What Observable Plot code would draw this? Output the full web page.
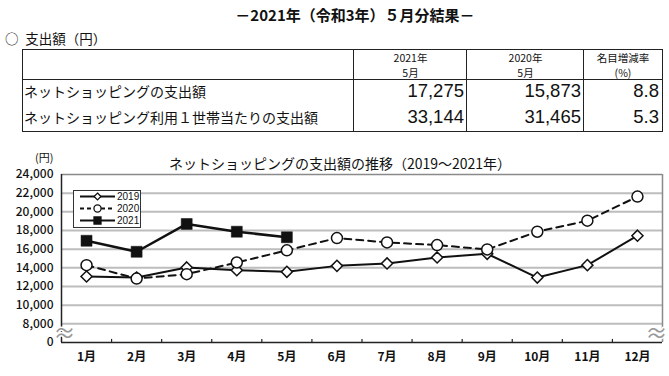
<!DOCTYPE html>
<html><head><meta charset="utf-8">
<script src="https://cdn.jsdelivr.net/npm/d3@7"></script>
<script src="https://cdn.jsdelivr.net/npm/@observablehq/plot@0.6"></script>
<style>
body{margin:0;width:669px;height:376px;position:relative;background:#fff;font-family:"Noto Sans CJK JP","Noto Sans",sans-serif;color:#111;overflow:hidden}
.abs{position:absolute;white-space:nowrap}
#title{left:0;width:710px;top:5px;text-align:center;font-weight:bold;font-size:15px;line-height:20px}
#sub{left:5px;top:29px;font-size:13.5px;line-height:18px}
#table{left:22px;top:49px;width:639px;height:81px;border:1.5px solid #222}
.vd{position:absolute;top:0;bottom:0;border-left:1.5px solid #222}
.hd{position:absolute;left:0;right:0;top:29px;border-top:1.5px solid #222}
.hc{position:absolute;text-align:center;font-size:10.5px;line-height:13px;height:13px}
.lab{position:absolute;left:1px;font-size:14px;line-height:18px}
.val{position:absolute;text-align:right;font-family:"Liberation Sans",Arial,sans-serif;font-size:18.5px;line-height:22px}
#chart{left:0;top:140px}
#ctitle{left:0;width:680px;top:154px;text-align:center;font-size:14px;line-height:18px}
#yen{left:35px;top:150px;font-size:11px;line-height:14px}
#legend{left:73px;top:190px;width:66px;height:36px;border:1px solid #333;background:#fff}
</style></head>
<body>
<div id="title" class="abs"></div>
<div id="sub" class="abs"></div>
<div id="table" class="abs"></div>
<div id="chart" class="abs"></div>
<div id="ctitle" class="abs"></div>
<div id="yen" class="abs"></div>
<div id="legend" class="abs"></div>
<script>
// ---- text ----
const pageTitle = "－2021年（令和3年）５月分結果－";
const sectionTitle = "○\u2002支出額（円）";
const chartTitle = "ネットショッピングの支出額の推移（2019～2021年）";
const yUnit = "(円)";
// ---- table data ----
const tableHeaders = [["2021年","5月"],["2020年","5月"],["名目増減率","(%)"]];
const tableRowLabels = ["ネットショッピングの支出額","ネットショッピング利用１世帯当たりの支出額"];
const tableCol2021 = ["17,275","33,144"];
const tableCol2020 = ["15,873","31,465"];
const tableColRate = ["8.8","5.3"];
// ---- chart data ----
const months = [1,2,3,4,5,6,7,8,9,10,11,12];
const monthLabels = ["1月","2月","3月","4月","5月","6月","7月","8月","9月","10月","11月","12月"];
const seriesNames = ["2019","2020","2021"];
const values2019 = [13070,12960,14040,13750,13570,14210,14470,15110,15500,12960,14290,17440];
const values2020 = [14290,12850,13320,14570,15873,17190,16720,16440,15970,17870,19050,21630];
const values2021 = [16900,15720,18700,17870,17275];
const yTicks = [0,8000,10000,12000,14000,16000,18000,20000,22000,24000];

document.getElementById("title").textContent = pageTitle;
document.getElementById("sub").textContent = sectionTitle;
document.getElementById("ctitle").textContent = chartTitle;
document.getElementById("yen").textContent = yUnit;

// ---- table ----
const tbl = document.getElementById("table");
const colX = [0, 331, 444, 561, 639]; // column edges (layout)
let html = "";
for (let i = 1; i < 4; i++) html += `<div class="vd" style="left:${colX[i]-1}px"></div>`;
html += `<div class="hd"></div>`;
tableHeaders.forEach((h, i) => {
  const st = `left:${colX[i+1]}px;width:${colX[i+2]-colX[i+1]}px`;
  html += `<div class="hc" style="${st};top:0.5px">${h[0]}</div>`;
  html += `<div class="hc" style="${st};top:16px">${h[1]}</div>`;
});
const rowTops = [31, 57];
tableRowLabels.forEach((l, r) => {
  html += `<div class="lab" style="top:${rowTops[r]+1}px">${l}</div>`;
  [tableCol2021, tableCol2020, tableColRate].forEach((col, c) => {
    html += `<div class="val" style="top:${rowTops[r]-1}px;left:${colX[c+1]}px;width:${colX[c+2]-colX[c+1]-3}px">${col[r]}</div>`;
  });
});
tbl.innerHTML = html;

// ---- chart ----
const allSeries = [values2019, values2020, values2021];
const rows = [];
allSeries.forEach((vals, s) => vals.forEach((v, i) => rows.push({series: seriesNames[s], month: months[i], value: v})));
const bySeries = name => rows.filter(d => d.series === name);

const BREAK_BASE = 6000; // position where the "0" tick is drawn (broken axis)
const yPos = v => v === 0 ? BREAK_BASE : v;
const xDomain = [months[0] - 0.5, months[months.length - 1] + 0.5];
const boundaries = months.slice(1).map(m => m - 0.5);
const gridTicks = yTicks.filter(v => v > 0 && v < yTicks[yTicks.length - 1]);
const yTop = yTicks[yTicks.length - 1];

const fmt = d3.format(",");
const chart = Plot.plot({
  width: 669, height: 236,
  marginLeft: 61, marginRight: 7, marginTop: 34, marginBottom: 34,
  x: {domain: xDomain, axis: null},
  y: {domain: [BREAK_BASE, yTop], axis: null},
  style: {fontFamily: "'Noto Sans CJK JP', sans-serif", fontSize: "12px", color: "#111", background: "transparent"},
  marks: [
    Plot.ruleY(gridTicks, {stroke: "#bdbdbd", strokeWidth: 2}),
    Plot.ruleY([yTop], {stroke: "#8a8a8a", strokeWidth: 1.5}),
    Plot.ruleX([xDomain[1]], {stroke: "#8a8a8a", strokeWidth: 1.5}),
    Plot.axisY(yTicks.map(yPos), {label: null, tickSize: 0, tickPadding: 8, tickFormat: d => d === BREAK_BASE ? "0" : fmt(d), fontSize: 12, fontWeight: 500}),
    Plot.axisX(months, {label: null, tickSize: 0, tickPadding: 10, tickFormat: (d, i) => monthLabels[i], fontSize: 12, fontWeight: 600}),
    Plot.line(bySeries("2019"), {x: "month", y: "value", stroke: "#111", strokeWidth: 2}),
    Plot.line(bySeries("2020"), {x: "month", y: "value", stroke: "#111", strokeWidth: 2, strokeDasharray: "7,5"}),
    Plot.line(bySeries("2021"), {x: "month", y: "value", stroke: "#111", strokeWidth: 2.5}),
    Plot.dot(bySeries("2019"), {x: "month", y: "value", symbol: "diamond2", r: 5, fill: "white", stroke: "#111", strokeWidth: 1.5}),
    Plot.dot(bySeries("2020"), {x: "month", y: "value", symbol: "circle", r: 5.5, fill: "white", stroke: "#111", strokeWidth: 1.5}),
    Plot.dot(bySeries("2021"), {x: "month", y: "value", symbol: "square", r: 6.2, fill: "#111", stroke: "#111", strokeWidth: 0.5}),
    Plot.ruleX([xDomain[0]], {stroke: "#222", strokeWidth: 1.5}),
    Plot.ruleY([BREAK_BASE], {stroke: "#222", strokeWidth: 1.5}),
    Plot.ruleX(boundaries, {y1: BREAK_BASE, y2: BREAK_BASE + 330, stroke: "#222", strokeWidth: 1.2}),
    Plot.text(["≈"], {x: xDomain[0], y: (BREAK_BASE + gridTicks[0]) / 2, dx: 3, dy: 1, text: d => d, fontSize: 22, fill: "#999", stroke: "white", strokeWidth: 3}),
    Plot.text(["≈"], {x: xDomain[1], y: (BREAK_BASE + gridTicks[0]) / 2, dx: -6, dy: 1, text: d => d, fontSize: 22, fill: "#999", stroke: "white", strokeWidth: 3})
  ]
});
document.getElementById("chart").appendChild(chart);

// ---- legend ----
const legendStyles = [
  {dash: null, sym: d3.symbolDiamond2, size: 30, fill: "white"},
  {dash: "4,3", sym: d3.symbolCircle, size: 40, fill: "white"},
  {dash: null, sym: d3.symbolSquare, size: 49, fill: "#111"}
];
const lg = d3.select("#legend").append("svg").attr("width", 66).attr("height", 36).style("display", "block");
seriesNames.forEach((name, i) => {
  const st = legendStyles[i];
  const y = 5.5 + i * 12;
  lg.append("line").attr("x1", 6).attr("x2", 41).attr("y1", y).attr("y2", y)
    .attr("stroke", "#111").attr("stroke-width", 2).attr("stroke-dasharray", st.dash);
  lg.append("path").attr("d", d3.symbol(st.sym, st.size)()).attr("transform", `translate(23.5,${y})`)
    .attr("fill", st.fill).attr("stroke", "#111").attr("stroke-width", 1.3);
  lg.append("text").attr("x", 43).attr("y", y).attr("dy", "0.35em").attr("font-size", 10)
    .attr("font-family", "'Liberation Sans',sans-serif").attr("fill", "#111").text(name);
});
</script>
</body></html>
